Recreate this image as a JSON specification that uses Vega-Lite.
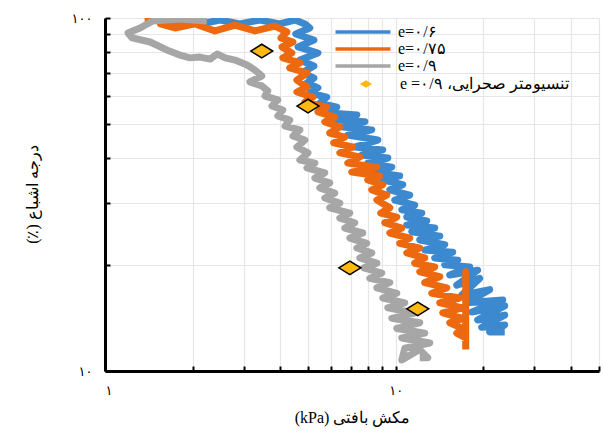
{
  "$schema": "https://vega.github.io/schema/vega-lite/v6.json",
  "width": 494,
  "height": 353,
  "autosize": "none",
  "padding": {"left": 105, "top": 18, "right": 5, "bottom": 65},
  "background": "white",
  "config": {"view": {"stroke": null}, "font": "Liberation Serif"},
  "datasets": {
    "lines": [
      {"s":"e=۰/۶","i":1,"x":1.81,"y":98.7},{"s":"e=۰/۶","i":2,"x":2.12,"y":96.2},{"s":"e=۰/۶","i":3,"x":2.49,"y":98.7},{"s":"e=۰/۶","i":4,"x":2.91,"y":96.2},{"s":"e=۰/۶","i":5,"x":3.41,"y":98.7},{"s":"e=۰/۶","i":6,"x":3.99,"y":96.2},{"s":"e=۰/۶","i":7,"x":4.50,"y":98.7},{"s":"e=۰/۶","i":8,"x":4.87,"y":96.2},{"s":"e=۰/۶","i":9,"x":5.06,"y":93.7},{"s":"e=۰/۶","i":10,"x":4.53,"y":90.1},
      {"s":"e=۰/۶","i":11,"x":5.23,"y":86.6},{"s":"e=۰/۶","i":12,"x":4.61,"y":82.8},{"s":"e=۰/۶","i":13,"x":5.40,"y":79.6},{"s":"e=۰/۶","i":14,"x":4.68,"y":76.0},{"s":"e=۰/۶","i":15,"x":5.23,"y":73.1},{"s":"e=۰/۶","i":16,"x":4.75,"y":69.9},{"s":"e=۰/۶","i":17,"x":5.23,"y":67.6},{"s":"e=۰/۶","i":18,"x":4.95,"y":65.5},{"s":"e=۰/۶","i":19,"x":5.40,"y":63.4},{"s":"e=۰/۶","i":20,"x":5.06,"y":61.3},
      {"s":"e=۰/۶","i":21,"x":5.79,"y":59.7},{"s":"e=۰/۶","i":22,"x":5.48,"y":57.4},{"s":"e=۰/۶","i":23,"x":6.27,"y":55.9},{"s":"e=۰/۶","i":24,"x":5.93,"y":53.8},{"s":"e=۰/۶","i":25,"x":7.35,"y":53.1},{"s":"e=۰/۶","i":26,"x":6.27,"y":51.4},{"s":"e=۰/۶","i":27,"x":7.83,"y":50.8},{"s":"e=۰/۶","i":28,"x":6.58,"y":49.1},{"s":"e=۰/۶","i":29,"x":8.27,"y":48.2},{"s":"e=۰/۶","i":30,"x":6.84,"y":46.6},
      {"s":"e=۰/۶","i":31,"x":8.67,"y":45.1},{"s":"e=۰/۶","i":32,"x":7.23,"y":43.1},{"s":"e=۰/۶","i":33,"x":9.02,"y":42.3},{"s":"e=۰/۶","i":34,"x":7.64,"y":40.9},{"s":"e=۰/۶","i":35,"x":9.39,"y":40.1},{"s":"e=۰/۶","i":36,"x":8.01,"y":38.8},{"s":"e=۰/۶","i":37,"x":9.69,"y":37.8},{"s":"e=۰/۶","i":38,"x":8.47,"y":36.6},{"s":"e=۰/۶","i":39,"x":10.32,"y":35.7},{"s":"e=۰/۶","i":40,"x":9.02,"y":34.8},
      {"s":"e=۰/۶","i":41,"x":10.57,"y":33.7},{"s":"e=۰/۶","i":42,"x":9.54,"y":32.6},{"s":"e=۰/۶","i":43,"x":11.17,"y":31.5},{"s":"e=۰/۶","i":44,"x":9.92,"y":30.5},{"s":"e=۰/۶","i":45,"x":11.62,"y":29.5},{"s":"e=۰/۶","i":46,"x":10.49,"y":28.6},{"s":"e=۰/۶","i":47,"x":12.29,"y":28.0},{"s":"e=۰/۶","i":48,"x":10.91,"y":27.3},{"s":"e=۰/۶","i":49,"x":12.78,"y":26.6},{"s":"e=۰/۶","i":50,"x":10.91,"y":25.9},
      {"s":"e=۰/۶","i":51,"x":13.61,"y":25.4},{"s":"e=۰/۶","i":52,"x":11.35,"y":24.8},{"s":"e=۰/۶","i":53,"x":14.17,"y":24.1},{"s":"e=۰/۶","i":54,"x":12.09,"y":23.5},{"s":"e=۰/۶","i":55,"x":14.74,"y":22.8},{"s":"e=۰/۶","i":56,"x":12.58,"y":22.0},{"s":"e=۰/۶","i":57,"x":15.70,"y":21.7},{"s":"e=۰/۶","i":58,"x":13.61,"y":20.9},{"s":"e=۰/۶","i":59,"x":16.34,"y":20.6},{"s":"e=۰/۶","i":60,"x":14.74,"y":20.0},
      {"s":"e=۰/۶","i":61,"x":17.96,"y":19.7},{"s":"e=۰/۶","i":62,"x":15.33,"y":18.7},{"s":"e=۰/۶","i":63,"x":19.13,"y":19.3},{"s":"e=۰/۶","i":64,"x":16.21,"y":17.5},{"s":"e=۰/۶","i":65,"x":19.44,"y":18.3},{"s":"e=۰/۶","i":66,"x":16.86,"y":16.4},{"s":"e=۰/۶","i":67,"x":21.04,"y":17.0},{"s":"e=۰/۶","i":68,"x":17.54,"y":15.6},{"s":"e=۰/۶","i":69,"x":23.33,"y":15.9},{"s":"e=۰/۶","i":70,"x":18.25,"y":14.7},
      {"s":"e=۰/۶","i":71,"x":23.70,"y":15.3},{"s":"e=۰/۶","i":72,"x":19.13,"y":13.95},{"s":"e=۰/۶","i":73,"x":23.70,"y":14.4},{"s":"e=۰/۶","i":74,"x":19.75,"y":13.3},{"s":"e=۰/۶","i":75,"x":23.70,"y":13.5},{"s":"e=۰/۶","i":76,"x":21.04,"y":12.9},{"s":"e=۰/۶","i":77,"x":23.70,"y":12.9},

      {"s":"e=۰/۷۵","i":1,"x":1.37,"y":98.1},{"s":"e=۰/۷۵","i":2,"x":1.61,"y":99.4},{"s":"e=۰/۷۵","i":3,"x":1.96,"y":98.1},{"s":"e=۰/۷۵","i":4,"x":1.55,"y":96.2},{"s":"e=۰/۷۵","i":5,"x":1.74,"y":93.7},{"s":"e=۰/۷۵","i":6,"x":2.04,"y":96.2},{"s":"e=۰/۷۵","i":7,"x":2.39,"y":91.9},{"s":"e=۰/۷۵","i":8,"x":2.80,"y":95.5},{"s":"e=۰/۷۵","i":9,"x":3.28,"y":91.9},{"s":"e=۰/۷۵","i":10,"x":3.84,"y":94.9},
      {"s":"e=۰/۷۵","i":11,"x":4.22,"y":91.3},{"s":"e=۰/۷۵","i":12,"x":4.03,"y":87.8},{"s":"e=۰/۷۵","i":13,"x":4.43,"y":85.5},{"s":"e=۰/۷۵","i":14,"x":4.06,"y":82.8},{"s":"e=۰/۷۵","i":15,"x":4.39,"y":79.6},{"s":"e=۰/۷۵","i":16,"x":4.09,"y":77.1},{"s":"e=۰/۷۵","i":17,"x":4.68,"y":74.6},{"s":"e=۰/۷۵","i":18,"x":4.32,"y":72.2},{"s":"e=۰/۷۵","i":19,"x":4.95,"y":69.9},{"s":"e=۰/۷۵","i":20,"x":4.57,"y":66.7},
      {"s":"e=۰/۷۵","i":21,"x":4.95,"y":63.8},{"s":"e=۰/۷۵","i":22,"x":4.57,"y":61.7},{"s":"e=۰/۷۵","i":23,"x":5.19,"y":59.7},{"s":"e=۰/۷۵","i":24,"x":4.87,"y":57.8},{"s":"e=۰/۷۵","i":25,"x":5.79,"y":55.9},{"s":"e=۰/۷۵","i":26,"x":5.40,"y":54.2},{"s":"e=۰/۷۵","i":27,"x":6.17,"y":52.4},{"s":"e=۰/۷۵","i":28,"x":5.70,"y":50.8},{"s":"e=۰/۷۵","i":29,"x":6.42,"y":49.1},{"s":"e=۰/۷۵","i":30,"x":5.93,"y":47.2},
      {"s":"e=۰/۷۵","i":31,"x":6.68,"y":46.0},{"s":"e=۰/۷۵","i":32,"x":6.12,"y":44.3},{"s":"e=۰/۷۵","i":33,"x":7.11,"y":43.1},{"s":"e=۰/۷۵","i":34,"x":6.42,"y":41.5},{"s":"e=۰/۷۵","i":35,"x":7.52,"y":40.4},{"s":"e=۰/۷۵","i":36,"x":6.84,"y":38.8},{"s":"e=۰/۷۵","i":37,"x":8.61,"y":37.8},{"s":"e=۰/۷۵","i":38,"x":7.06,"y":36.6},{"s":"e=۰/۷۵","i":39,"x":8.81,"y":35.7},{"s":"e=۰/۷۵","i":40,"x":8.01,"y":34.8},
      {"s":"e=۰/۷۵","i":41,"x":9.02,"y":33.7},{"s":"e=۰/۷۵","i":42,"x":8.27,"y":32.6},{"s":"e=۰/۷۵","i":43,"x":9.31,"y":31.5},{"s":"e=۰/۷۵","i":44,"x":8.61,"y":30.5},{"s":"e=۰/۷۵","i":45,"x":9.54,"y":29.0},{"s":"e=۰/۷۵","i":46,"x":8.88,"y":28.0},{"s":"e=۰/۷۵","i":47,"x":10.08,"y":27.3},{"s":"e=۰/۷۵","i":48,"x":9.17,"y":26.3},{"s":"e=۰/۷۵","i":49,"x":10.49,"y":25.4},{"s":"e=۰/۷۵","i":50,"x":9.54,"y":24.6},
      {"s":"e=۰/۷۵","i":51,"x":11.17,"y":23.8},{"s":"e=۰/۷۵","i":52,"x":10.32,"y":23.0},{"s":"e=۰/۷۵","i":53,"x":12.09,"y":22.3},{"s":"e=۰/۷۵","i":54,"x":10.91,"y":21.6},{"s":"e=۰/۷۵","i":55,"x":12.58,"y":20.9},{"s":"e=۰/۷۵","i":56,"x":11.62,"y":20.2},{"s":"e=۰/۷۵","i":57,"x":13.61,"y":19.7},{"s":"e=۰/۷۵","i":58,"x":12.09,"y":19.1},{"s":"e=۰/۷۵","i":59,"x":14.17,"y":18.5},{"s":"e=۰/۷۵","i":60,"x":12.58,"y":17.8},
      {"s":"e=۰/۷۵","i":61,"x":14.97,"y":17.2},{"s":"e=۰/۷۵","i":62,"x":13.30,"y":16.6},{"s":"e=۰/۷۵","i":63,"x":16.60,"y":16.1},{"s":"e=۰/۷۵","i":64,"x":14.17,"y":15.6},{"s":"e=۰/۷۵","i":65,"x":16.99,"y":15.1},{"s":"e=۰/۷۵","i":66,"x":14.51,"y":14.6},{"s":"e=۰/۷۵","i":67,"x":16.99,"y":14.1},{"s":"e=۰/۷۵","i":68,"x":15.33,"y":13.7},{"s":"e=۰/۷۵","i":69,"x":16.99,"y":13.2},{"s":"e=۰/۷۵","i":70,"x":16.21,"y":12.8},
      {"s":"e=۰/۷۵","i":71,"x":17.40,"y":12.4},{"s":"e=۰/۷۵","i":72,"x":17.40,"y":19.1},{"s":"e=۰/۷۵","i":73,"x":17.40,"y":11.5},

      {"s":"e=۰/۹","i":1,"x":2.24,"y":98.1},{"s":"e=۰/۹","i":2,"x":1.81,"y":99.4},{"s":"e=۰/۹","i":3,"x":1.46,"y":98.1},{"s":"e=۰/۹","i":4,"x":1.32,"y":93.7},{"s":"e=۰/۹","i":5,"x":1.20,"y":90.7},{"s":"e=۰/۹","i":6,"x":1.24,"y":87.8},{"s":"e=۰/۹","i":7,"x":1.43,"y":85.5},{"s":"e=۰/۹","i":8,"x":1.63,"y":81.2},{"s":"e=۰/۹","i":9,"x":1.81,"y":78.5},{"s":"e=۰/۹","i":10,"x":1.96,"y":77.1},
      {"s":"e=۰/۹","i":11,"x":2.12,"y":77.5},{"s":"e=۰/۹","i":12,"x":2.30,"y":76.5},{"s":"e=۰/۹","i":13,"x":2.43,"y":79.1},{"s":"e=۰/۹","i":14,"x":2.59,"y":77.1},{"s":"e=۰/۹","i":15,"x":2.80,"y":76.0},{"s":"e=۰/۹","i":16,"x":3.08,"y":73.6},{"s":"e=۰/۹","i":17,"x":3.28,"y":71.2},{"s":"e=۰/۹","i":18,"x":3.46,"y":68.5},{"s":"e=۰/۹","i":19,"x":3.15,"y":65.9},{"s":"e=۰/۹","i":20,"x":3.46,"y":64.2},
      {"s":"e=۰/۹","i":21,"x":3.63,"y":62.1},{"s":"e=۰/۹","i":22,"x":3.55,"y":60.1},{"s":"e=۰/۹","i":23,"x":3.93,"y":58.6},{"s":"e=۰/۹","i":24,"x":3.75,"y":56.3},{"s":"e=۰/۹","i":25,"x":4.09,"y":54.9},{"s":"e=۰/۹","i":26,"x":3.93,"y":52.8},{"s":"e=۰/۹","i":27,"x":4.32,"y":51.4},{"s":"e=۰/۹","i":28,"x":4.16,"y":49.4},{"s":"e=۰/۹","i":29,"x":4.68,"y":48.2},{"s":"e=۰/۹","i":30,"x":4.43,"y":46.3},
      {"s":"e=۰/۹","i":31,"x":4.87,"y":45.1},{"s":"e=۰/۹","i":32,"x":4.57,"y":43.1},{"s":"e=۰/۹","i":33,"x":4.99,"y":41.5},{"s":"e=۰/۹","i":34,"x":4.68,"y":39.6},{"s":"e=۰/۹","i":35,"x":5.27,"y":38.8},{"s":"e=۰/۹","i":36,"x":4.95,"y":37.6},{"s":"e=۰/۹","i":37,"x":5.70,"y":36.4},{"s":"e=۰/۹","i":38,"x":5.27,"y":35.2},{"s":"e=۰/۹","i":39,"x":5.93,"y":34.1},{"s":"e=۰/۹","i":40,"x":5.48,"y":33.0},
      {"s":"e=۰/۹","i":41,"x":6.17,"y":31.9},{"s":"e=۰/۹","i":42,"x":5.70,"y":30.9},{"s":"e=۰/۹","i":43,"x":6.42,"y":29.9},{"s":"e=۰/۹","i":44,"x":5.93,"y":29.0},{"s":"e=۰/۹","i":45,"x":6.95,"y":28.0},{"s":"e=۰/۹","i":46,"x":6.42,"y":27.1},{"s":"e=۰/۹","i":47,"x":7.23,"y":26.3},{"s":"e=۰/۹","i":48,"x":6.68,"y":25.4},{"s":"e=۰/۹","i":49,"x":7.70,"y":24.6},{"s":"e=۰/۹","i":50,"x":6.95,"y":23.8},
      {"s":"e=۰/۹","i":51,"x":7.95,"y":23.0},{"s":"e=۰/۹","i":52,"x":7.35,"y":22.3},{"s":"e=۰/۹","i":53,"x":8.27,"y":21.6},{"s":"e=۰/۹","i":54,"x":7.52,"y":20.9},{"s":"e=۰/۹","i":55,"x":8.61,"y":20.2},{"s":"e=۰/۹","i":56,"x":7.76,"y":19.6},{"s":"e=۰/۹","i":57,"x":8.95,"y":18.95},{"s":"e=۰/۹","i":58,"x":8.14,"y":18.3},{"s":"e=۰/۹","i":59,"x":9.54,"y":17.8},{"s":"e=۰/۹","i":60,"x":8.61,"y":17.2},
      {"s":"e=۰/۹","i":61,"x":10.08,"y":16.6},{"s":"e=۰/۹","i":62,"x":9.02,"y":16.1},{"s":"e=۰/۹","i":63,"x":10.74,"y":15.6},{"s":"e=۰/۹","i":64,"x":9.39,"y":15.1},{"s":"e=۰/۹","i":65,"x":11.62,"y":14.6},{"s":"e=۰/۹","i":66,"x":9.69,"y":14.1},{"s":"e=۰/۹","i":67,"x":12.09,"y":13.7},{"s":"e=۰/۹","i":68,"x":10.08,"y":13.2},{"s":"e=۰/۹","i":69,"x":12.58,"y":12.8},{"s":"e=۰/۹","i":70,"x":10.49,"y":12.4},
      {"s":"e=۰/۹","i":71,"x":13.09,"y":12.0},{"s":"e=۰/۹","i":72,"x":10.74,"y":11.6},{"s":"e=۰/۹","i":73,"x":10.49,"y":10.74},{"s":"e=۰/۹","i":74,"x":12.09,"y":11.5},{"s":"e=۰/۹","i":75,"x":12.88,"y":10.9},{"s":"e=۰/۹","i":76,"x":12.09,"y":10.9}
    ],
    "pts": [
      {"k":"‫تنسیومتر صحرایی، e =۰/۹‬","x":3.46,"y":80.6},
      {"k":"‫تنسیومتر صحرایی، e =۰/۹‬","x":4.99,"y":56.3},
      {"k":"‫تنسیومتر صحرایی، e =۰/۹‬","x":6.95,"y":19.6},
      {"k":"‫تنسیومتر صحرایی، e =۰/۹‬","x":11.9,"y":15.0}
    ]
  },
  "layer": [
    {
      "data": {"name": "lines"},
      "mark": {"type": "line", "strokeWidth": 7, "strokeJoin": "round", "clip": true},
      "encoding": {
        "x": {
          "field": "x", "type": "quantitative",
          "scale": {"type": "log", "domain": [1, 50], "nice": false},
          "axis": {
            "values": [1,2,3,4,5,6,7,8,9,10,20,30,40,50],
            "labelExpr": "datum.value == 1 ? '۱' : datum.value == 10 ? '۱۰' : ''",
            "labelOverlap": false,
            "grid": true, "gridColor": "#e6e6e6", "gridWidth": 1.2,
            "domainColor": "black", "domainWidth": 3,
            "tickColor": "black", "tickWidth": 2, "tickSize": -5,
            "labelFont": "DejaVu Sans", "labelFontSize": 13, "labelColor": "black", "labelPadding": 18,
            "title": "‫مکش بافتی (kPa)‬",
            "titleFont": "Liberation Serif", "titleFontSize": 16, "titleFontWeight": "normal", "titleColor": "black",
            "titleX": 247, "titleY": 46, "titleBaseline": "middle", "titleAlign": "center"
          }
        },
        "y": {
          "field": "y", "type": "quantitative",
          "scale": {"type": "log", "domain": [10, 100], "nice": false},
          "axis": {
            "values": [10,20,30,40,50,60,70,80,90,100],
            "labelExpr": "datum.value == 10 ? '۱۰' : datum.value == 100 ? '۱۰۰' : ''",
            "labelOverlap": false,
            "grid": true, "gridColor": "#e6e6e6", "gridWidth": 1.2,
            "domainColor": "black", "domainWidth": 3,
            "tickColor": "black", "tickWidth": 2, "tickSize": -5,
            "labelFont": "DejaVu Sans", "labelFontSize": 13, "labelColor": "black", "labelPadding": 18,
            "title": "‫درجه اشباع (٪)‬",
            "titleFont": "Liberation Serif", "titleFontSize": 16, "titleFontWeight": "normal", "titleColor": "black",
            "titleX": -73, "titleY": 176, "titleBaseline": "middle", "titleAlign": "center", "titleAngle": 270
          }
        },
        "color": {
          "field": "s", "type": "nominal",
          "scale": {"domain": ["e=۰/۶", "e=۰/۷۵", "e=۰/۹"], "range": ["#3C89D0", "#EC6910", "#A6A6A6"]},
          "legend": {
            "orient": "none", "legendX": 249, "legendY": 5, "title": null,
            "symbolType": "M-4,0L4,0", "symbolSize": 189, "symbolStrokeWidth": 3.5,
            "labelFont": "Liberation Serif", "labelFontSize": 16, "labelColor": "black",
            "labelOffset": 26, "rowPadding": -1, "labelLimit": 300
          }
        },
        "order": {"field": "i", "type": "quantitative"}
      }
    },
    {
      "data": {"name": "pts"},
      "mark": {"type": "point", "filled": true, "fill": "#FDB913", "stroke": "black", "strokeWidth": 1.5, "size": 484, "opacity": 1},
      "encoding": {
        "x": {"field": "x", "type": "quantitative"},
        "y": {"field": "y", "type": "quantitative"},
        "shape": {
          "field": "k", "type": "nominal",
          "scale": {"range": ["M-1,0L0,-0.62L1,0L0,0.62Z"]},
          "legend": {
            "orient": "none", "legendX": 253, "legendY": 58, "title": null,
            "symbolSize": 150, "symbolFillColor": "#FDB913", "symbolStrokeColor": "black", "symbolStrokeWidth": 1.2,
            "labelFont": "Liberation Serif", "labelFontSize": 16, "labelColor": "black",
            "labelOffset": 26, "labelLimit": 300
          }
        }
      }
    }
  ]
}
